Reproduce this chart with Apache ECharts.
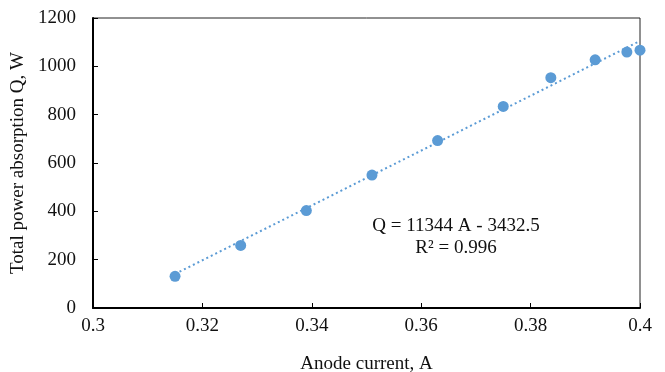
<!DOCTYPE html>
<html>
<head>
<meta charset="utf-8">
<script src="https://cdn.jsdelivr.net/npm/echarts@6/dist/echarts.min.js"></script>
<style>
  html, body { margin: 0; padding: 0; background: #fff; }
  #chart { width: 665px; height: 372px; }
</style>
</head>
<body>
<div id="chart"></div>
<script>
// Measured anode current (A) and total absorbed power (W)
const anodeCurrent = [0.315, 0.327, 0.339, 0.351, 0.363, 0.375, 0.3837, 0.3918, 0.3976, 0.4];
const powerAbsorbed = [131, 259, 403, 550, 693, 834, 953, 1027, 1059, 1067];

// Linear fit: Q = slope * A + intercept
const fitSlope = 11344;
const fitIntercept = -3432.5;
const fitR2 = 0.996;
const fitRange = [0.315, 0.4];

const fitLine = fitRange.map(a => [a, fitSlope * a + fitIntercept]);
const points = anodeCurrent.map((a, i) => [a, powerAbsorbed[i]]);

const serif = '"Liberation Serif", "Times New Roman", serif';
const blue = '#5B9BD5';
const fs = 19;

const chart = echarts.init(document.getElementById('chart'));
chart.setOption({
  animation: false,
  textStyle: { fontFamily: serif },
  grid: {
    left: 93, right: 25, top: 18, bottom: 64,
    outerBoundsMode: 'none', containLabel: false,
    show: true, borderColor: '#222', borderWidth: 1, backgroundColor: 'transparent'
  },
  xAxis: {
    type: 'value', min: 0.3, max: 0.4, interval: 0.02,
    name: 'Anode current, A', nameLocation: 'middle', nameGap: 47,
    nameTextStyle: { fontFamily: serif, fontSize: fs, color: '#111' },
    axisLine: { onZero: false, lineStyle: { color: '#000', width: 2 } },
    axisTick: { inside: true, length: 5, lineStyle: { color: '#000', width: 1 } },
    axisLabel: { fontFamily: serif, fontSize: fs, color: '#111', margin: 9,
      formatter: v => String(+v.toFixed(2)) },
    splitLine: { show: false }
  },
  yAxis: {
    type: 'value', min: 0, max: 1200, interval: 200,
    name: 'Total power absorption Q, W', nameLocation: 'middle', nameGap: 57,
    nameTextStyle: { fontFamily: serif, fontSize: fs, color: '#111' },
    axisLine: { show: true, lineStyle: { color: '#000', width: 2 } },
    axisTick: { show: true, inside: true, length: 5, lineStyle: { color: '#000', width: 1 } },
    axisLabel: { fontFamily: serif, fontSize: fs, color: '#111', margin: 17,
      formatter: v => String(v) },
    splitLine: { show: false }
  },
  series: [
    {
      type: 'line', data: fitLine, showSymbol: false, silent: true,
      lineStyle: { color: blue, width: 2, type: [2, 3] }, z: 2
    },
    {
      type: 'scatter', data: points, symbol: 'circle', symbolSize: 11,
      itemStyle: { color: blue, opacity: 1 }, z: 3
    }
  ],
  graphic: [
    {
      type: 'text', x: 456, y: 215,
      style: {
        text: 'Q = ' + fitSlope + ' A - ' + Math.abs(fitIntercept) + '\nR² = ' + fitR2,
        font: fs + 'px ' + serif, fill: '#111', align: 'center', lineHeight: 22
      }
    }
  ]
});
</script>
</body>
</html>
